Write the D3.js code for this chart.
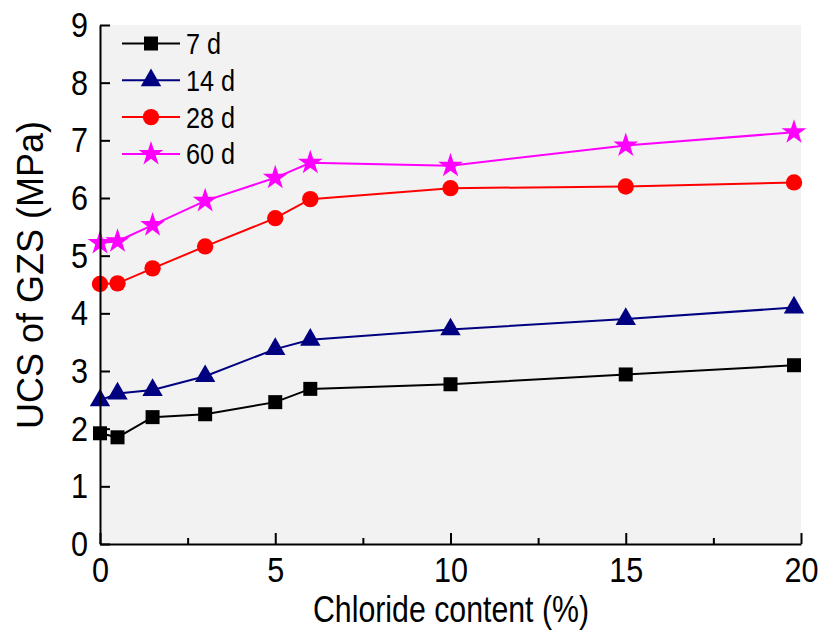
<!DOCTYPE html>
<html><head><meta charset="utf-8">
<script src="https://cdn.jsdelivr.net/npm/d3@7/dist/d3.min.js"></script>
<style>body{margin:0;background:#fff}svg{display:block}</style>
</head><body>
<script>
const chloride = [0, 0.5, 1.5, 3, 5, 6, 10, 15, 19.8];
const seriesNames = ["7 d", "14 d", "28 d", "60 d"];
const ucs7  = [1.92, 1.85, 2.20, 2.25, 2.46, 2.69, 2.77, 2.94, 3.10];
const ucs14 = [2.49, 2.61, 2.67, 2.91, 3.38, 3.54, 3.72, 3.90, 4.10];
const ucs28 = [4.51, 4.52, 4.78, 5.16, 5.65, 5.98, 6.17, 6.20, 6.27];
const ucs60 = [5.22, 5.25, 5.53, 5.95, 6.35, 6.61, 6.56, 6.91, 7.14];
const xTicks = [0, 5, 10, 15, 20];
const xMinorTicks = [2.5, 7.5, 12.5, 17.5];
const yTicks = [0,1,2,3,4,5,6,7,8,9];

const FONT = '"Liberation Sans", Arial, sans-serif';
const W = 821, H = 634;
const svg = d3.select("body").append("svg").attr("width", W).attr("height", H).attr("font-family", FONT);
const x = d3.scaleLinear().domain([0, 20]).range([100, 801]);
const y = d3.scaleLinear().domain([0, 9]).range([544, 25]);

svg.append("rect").attr("x", x(0)).attr("y", y(9)).attr("width", x(20)-x(0)).attr("height", y(0)-y(9)).attr("fill", "#f2f2f2");

const series = [
  {name: seriesNames[0], vals: ucs7,  color: "#000000", sym: d3.symbolSquare,   size: 196},
  {name: seriesNames[1], vals: ucs14, color: "#000080", sym: d3.symbolTriangle, size: 180},
  {name: seriesNames[2], vals: ucs28, color: "#ff0000", sym: d3.symbolCircle,   size: 210},
  {name: seriesNames[3], vals: ucs60, color: "#ff00ff", sym: d3.symbolStar,     size: 190}
];

const line = d3.line().x(d => x(d[0])).y(d => y(d[1]));
series.forEach(s => {
  const pts = chloride.map((c, i) => [c, s.vals[i]]);
  svg.append("path").attr("d", line(pts)).attr("fill", "none").attr("stroke", s.color).attr("stroke-width", 2);
  svg.selectAll(null).data(pts).enter().append("path")
    .attr("d", d3.symbol().type(s.sym).size(s.size))
    .attr("transform", d => `translate(${x(d[0])},${y(d[1])})`)
    .attr("fill", s.color);
});

// axes
const fs = 36, sx = 0.85;
svg.append("g").attr("transform", `translate(0,${y(0)})`)
  .call(d3.axisBottom(x).tickValues(xTicks).tickSize(-11).tickSizeOuter(0).tickPadding(12).tickFormat(d3.format("d")));
svg.append("g").attr("transform", `translate(0,${y(0)})`)
  .call(d3.axisBottom(x).tickValues(xMinorTicks).tickSize(-6).tickSizeOuter(0).tickFormat(""))
  .select(".domain").remove();
svg.append("g").attr("transform", `translate(${x(0)},0)`)
  .call(d3.axisLeft(y).tickValues(yTicks).tickSize(-10).tickSizeOuter(0).tickPadding(12).tickFormat(d3.format("d")));
svg.selectAll(".domain").attr("stroke-width", 2).attr("stroke", "#000");
svg.selectAll(".tick line").attr("stroke-width", 2).attr("stroke", "#000");
svg.selectAll(".tick text").attr("font-size", fs).attr("font-family", FONT).attr("fill", "#000")
  .each(function() {
    const t = d3.select(this);
    const ox = +(t.attr("x") || 0);
    t.attr("x", ox / sx).attr("transform", `scale(${sx},1)`);
  });

svg.append("text").attr("x", 451).attr("y", 622).attr("text-anchor", "middle").attr("font-size", fs)
  .attr("textLength", 276).attr("lengthAdjust", "spacingAndGlyphs")
  .text("Chloride content (%)");
svg.append("text").attr("transform", `translate(43,${275}) rotate(-90)`).attr("text-anchor", "middle").attr("font-size", fs)
  .text("UCS of GZS (MPa)");

// legend
const lsx = 0.87;
const lg = svg.append("g");
series.forEach((s, i) => {
  const ly = 43.5 + i * 36.8;
  lg.append("line").attr("x1", 122).attr("x2", 180).attr("y1", ly).attr("y2", ly).attr("stroke", s.color).attr("stroke-width", 2);
  lg.append("path").attr("d", d3.symbol().type(s.sym).size(s.size)).attr("transform", `translate(151,${ly})`).attr("fill", s.color);
  lg.append("text").attr("x", 186 / lsx).attr("y", ly).attr("dy", "0.36em").attr("font-size", 29)
    .attr("transform", `scale(${lsx},1)`).text(s.name);
});
</script>
</body></html>
